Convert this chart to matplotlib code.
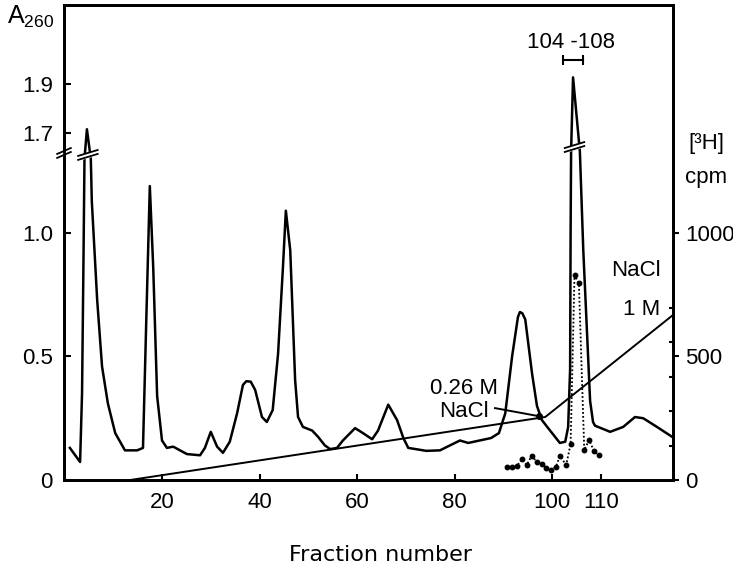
import numpy as np
import matplotlib
matplotlib.use("Agg")
import matplotlib.pyplot as plt

plt.rcParams['font.family'] = ['Liberation Sans', 'DejaVu Sans']
plt.rcParams['mathtext.default'] = 'regular'

# A260 elution profile (fraction number, absorbance)
fraction = [1.1, 3.2, 3.6, 3.9, 4.1, 4.6, 5.4, 5.6, 6.7, 7.7, 8.9, 10.4, 12.4,
            14.9, 16.1, 16.7, 17.5, 18.2, 19.0, 20.0, 21.0, 22.3, 25.1, 27.8,
            28.8, 30.0, 31.3, 32.5, 33.9, 35.4, 36.6, 37.3, 38.2, 39.1, 40.5,
            41.5, 42.7, 43.8, 44.8, 45.4, 46.3, 47.3, 47.9, 48.9, 50.8, 52.0,
            53.4, 54.5, 55.9, 57.1, 59.6, 61.2, 63.1, 64.3, 66.4, 68.2, 69.5,
            70.5, 74.2, 77.0, 81.1, 82.8, 87.5, 89.1, 90.4, 91.8, 93.0, 93.4,
            93.9, 94.5, 95.9, 96.9, 97.9, 99.0, 101.6, 102.7, 103.3, 103.7,
            103.8, 103.9, 104.3, 105.7, 106.4, 107.8, 108.4, 108.8, 111.9,
            114.6, 117.0, 118.7, 121.5, 124.6]
a260 = [0.13, 0.073, 0.35, 0.9, 1.3, 1.715, 1.3, 1.13, 0.73, 0.46, 0.31, 0.19,
        0.12, 0.12, 0.13, 0.59, 1.19, 0.86, 0.34, 0.16, 0.13, 0.135, 0.105,
        0.10, 0.13, 0.195, 0.135, 0.11, 0.155, 0.27, 0.385, 0.40, 0.398,
        0.365, 0.255, 0.235, 0.283, 0.51, 0.86, 1.09, 0.93, 0.405, 0.255,
        0.215, 0.20, 0.175, 0.14, 0.125, 0.13, 0.16, 0.21, 0.19, 0.165, 0.20,
        0.305, 0.243, 0.17, 0.13, 0.118, 0.12, 0.16, 0.15, 0.17, 0.19, 0.27,
        0.50, 0.66, 0.68, 0.675, 0.65, 0.43, 0.30, 0.243, 0.215, 0.15, 0.155,
        0.215, 0.45, 1.0, 1.33, 1.925, 1.33, 0.93, 0.32, 0.235, 0.22, 0.195,
        0.215, 0.255, 0.25, 0.215, 0.175]

# [3H] radioactivity
h3_fraction = [90.7, 91.7, 92.8, 93.8, 94.8, 95.8, 96.9, 97.9, 98.8, 99.8,
               100.8, 101.6, 102.9, 103.8, 104.6, 105.5, 106.6, 107.6, 108.6,
               109.6]
h3_cpm = [54, 54, 57, 84, 61, 97, 74, 64, 50, 41, 54, 97, 61, 146, 830, 796,
          121, 162, 117, 101]

# NaCl gradient (drawn in A260 units)
nacl_fraction = [13.5, 98.6, 124.8]
nacl_level = [0.0, 0.255, 0.668]
nacl_scale_ticks = [0.139, 0.278, 0.418, 0.557, 0.696]  # 0.2 M steps

left_ticks = [0, 0.5, 1.0, 1.7, 1.9]
left_labels = ['0', '0.5', '1.0', '1.7', '1.9']
right_ticks = [0, 500, 1000]
x_ticks = [20, 40, 60, 80, 100, 110]
pool = [102.3, 106.4]

BREAK_SHIFT = 0.295


def broken(v):
    v = np.asarray(v, dtype=float)
    return np.where(v > 1.5, v - BREAK_SHIFT, v)


def break_mark(ax, xc, yc, hw, clip=True):
    # two slanted strokes with a white gap (axis break symbol)
    dy = 0.008
    slope = 0.012
    xs = np.array([xc - hw, xc + hw])
    y1 = np.array([yc - slope, yc + slope]) - dy
    y2 = np.array([yc - slope, yc + slope]) + dy
    ax.fill_between(xs, y1, y2, color='white', zorder=5, clip_on=clip)
    ax.plot(xs, y1, color='black', lw=1.3, zorder=6, clip_on=clip)
    ax.plot(xs, y2, color='black', lw=1.3, zorder=6, clip_on=clip)


fig = plt.figure(figsize=(7.33, 5.70), dpi=100)
ax = fig.add_axes([64 / 733, 1 - 480 / 570, 609 / 733, 475 / 570])

ax.plot(fraction, broken(a260), color='black', lw=1.8, zorder=3,
        solid_joinstyle='round')
ax.plot(nacl_fraction, nacl_level, color='black', lw=1.4, zorder=3)
ax.plot(h3_fraction, np.array(h3_cpm) / 1000.0, color='black', lw=1.3,
        ls=(0, (1, 1.2)), marker='o', ms=3.2, zorder=4)

ax.set_xlim(-0.1, 124.8)
ax.set_ylim(0, 1.923)

for s in ax.spines.values():
    s.set_linewidth(2.0)

ax.set_xticks(x_ticks)
ax.set_yticks(broken(left_ticks))
ax.set_yticklabels(left_labels)
ax.tick_params(axis='x', direction='in', length=4, width=1.5, pad=9,
               labelsize=16)
ax.tick_params(axis='y', direction='in', length=5, width=1.5, pad=8,
               labelsize=16)

axr = ax.twinx()
axr.set_ylim(0, 1923)
axr.set_yticks(right_ticks)
axr.set_yticks(np.array(nacl_scale_ticks) * 1000, minor=True)
axr.tick_params(axis='y', which='major', direction='out', length=4,
                width=1.5, pad=4.5, labelsize=16)
axr.tick_params(axis='y', which='minor', direction='in', length=3, width=1.5)
for s in axr.spines.values():
    s.set_linewidth(2.0)

# axis break symbols
break_mark(ax, -0.1, 1.324, 1.4, clip=False)
break_mark(ax, 4.8, 1.316, 2.0)
break_mark(ax, 104.6, 1.348, 2.0)

# pooled fractions bar
ax.plot(pool, [1.70, 1.70], color='black', lw=1.5, marker='|', ms=7,
        mew=1.5)
ax.text(103.9, 1.773, '104 -108', ha='center', va='center', fontsize=16)

# NaCl annotations
ax.text(82.0, 0.372, '0.26 M', ha='center', va='center', fontsize=16)
ax.text(82.0, 0.279, 'NaCl', ha='center', va='center', fontsize=16)
ax.plot([88.3, 97.4], [0.291, 0.258], color='black', lw=1.4)
ax.plot([97.4], [0.258], 'o', color='black', ms=4)
ax.text(122.2, 0.85, 'NaCl', ha='right', va='center', fontsize=16)
ax.text(122.2, 0.692, '1 M', ha='right', va='center', fontsize=16)

# axis titles
fig.text(7 / 733, 1 - 24 / 570, 'A$_{260}$', fontsize=18, va='baseline')
fig.text(706 / 733, 1 - 143 / 570, '[³H]', fontsize=16, ha='center',
         va='center')
fig.text(706 / 733, 1 - 177 / 570, 'cpm', fontsize=16, ha='center',
         va='center')
fig.text(380 / 733, 1 - 555 / 570, 'Fraction number', fontsize=16,
         ha='center', va='center', family='DejaVu Sans')

fig.savefig('out.png', dpi=100)
